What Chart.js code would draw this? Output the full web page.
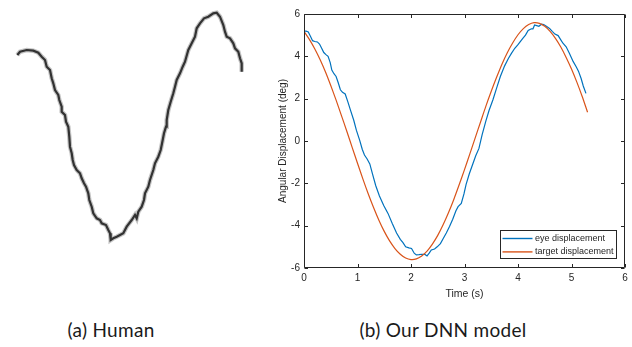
<!DOCTYPE html>
<html><head><meta charset="utf-8">
<script src="https://cdn.jsdelivr.net/npm/chart.js@4/dist/chart.umd.min.js"></script>
<style>
html,body{margin:0;padding:0;background:#fff;width:632px;height:347px;overflow:hidden}
body{position:relative}
#human{position:absolute;left:0;top:0}
#dnn{position:absolute;left:260px;top:0}
.cap{position:absolute;top:318.5px;font-family:Lato,"Open Sans",sans-serif;font-size:19px;line-height:22px;letter-spacing:0.3px;color:#1a1a1a;white-space:nowrap;transform:translateX(-50%)}
</style></head><body>
<canvas id="human" width="260" height="260"></canvas>
<canvas id="dnn" width="372" height="300"></canvas>
<div class="cap" style="left:111px">(a) Human</div>
<div class="cap" style="left:443px">(b) Our DNN model</div>
<script>
// ---- (a) human trace (horizontal / vertical units of the panel) ----
const humanX = [17.3,20,26.7,33.3,38.3,41.7,45,46.7,50,51.7,53.3,55,58.3,59.3,61.7,61.7,65,66,68.3,69.3,70,71.7,72.7,74,76.7,80,81.7,84,86,88.3,89.3,91.7,93.3,96.7,100,101.7,106,108.3,110,110.7,113.3,116.7,120,123.3,126.7,131.7,135,136.7,138.3,141.7,144,145,148.3,150,153.3,155,158.3,160.7,162.7,164,166,166.7,168.3,170.7,173.3,175,176.7,180,182.7,185,188.3,191.7,195,196.7,200,204,208.3,213.3,216.7,220,223.3,225,226.7,230,233.3,235,238.3,240,241.7,241.7];
const humanY = [55,51.7,50,50.7,52.7,56.7,60,66.7,70,78.3,83.3,90,95,100,106.7,111.7,115,121.7,126.7,136.7,146.7,153.3,160,165,170,173.3,178.3,183.3,186.7,193.3,200,206.7,213.3,218.3,220,223.3,225,230,233.3,240,238.3,236.7,235,233.3,226.7,220,215,218.3,211.7,206.7,200,193.3,186.7,180,170,163.3,156.7,150,140,133.3,126.7,120,110,101.7,93.3,86.7,80,73.3,66.7,61.7,50,43.3,36.7,28.3,23.3,18.3,16.7,13.3,12.7,16.7,25,31.7,36.7,38.3,43.3,48.3,51.7,58.3,63.3,71.7];

// ---- (b) DNN model ----
const eyeTime = [0.00,0.04,0.08,0.12,0.16,0.20,0.25,0.29,0.33,0.37,0.41,0.45,0.49,0.52,0.56,0.60,0.64,0.68,0.72,0.77,0.82,0.87,0.93,0.98,1.04,1.09,1.13,1.18,1.23,1.28,1.34,1.41,1.49,1.57,1.65,1.73,1.80,1.85,1.90,1.96,2.01,2.06,2.10,2.15,2.20,2.26,2.30,2.34,2.38,2.44,2.49,2.55,2.60,2.66,2.72,2.78,2.84,2.88,2.94,2.99,3.03,3.09,3.16,3.21,3.27,3.33,3.40,3.46,3.53,3.60,3.67,3.75,3.82,3.88,3.94,4.00,4.05,4.09,4.14,4.19,4.25,4.28,4.31,4.35,4.39,4.44,4.48,4.53,4.59,4.64,4.69,4.75,4.80,4.84,4.90,4.96,5.03,5.09,5.13,5.18,5.22,5.27];
const eyeDisp = [5.19,5.19,5.15,4.95,4.74,4.70,4.68,4.58,4.38,4.18,4.08,4.00,3.70,3.35,3.18,3.05,2.75,2.42,2.30,2.22,1.85,1.45,0.98,0.50,0.04,-0.40,-0.66,-0.85,-1.08,-1.55,-2.10,-2.60,-3.05,-3.42,-3.90,-4.35,-4.65,-4.80,-5.00,-5.05,-5.08,-5.30,-5.38,-5.37,-5.35,-5.36,-5.43,-5.30,-5.15,-5.10,-5.00,-4.85,-4.62,-4.35,-4.04,-3.70,-3.30,-3.10,-2.95,-2.50,-2.05,-1.55,-1.05,-0.70,-0.35,0.30,0.95,1.45,1.94,2.50,3.05,3.55,3.90,4.15,4.38,4.55,4.72,4.85,5.00,5.22,5.30,5.30,5.48,5.45,5.42,5.52,5.50,5.42,5.32,5.18,5.05,4.98,4.78,4.62,4.45,4.15,3.76,3.50,3.30,2.95,2.60,2.25];
const targetTime = [0.0,0.1,0.2,0.3,0.4,0.5,0.6,0.7,0.8,0.9,1.0,1.1,1.2,1.3,1.4,1.5,1.6,1.7,1.8,1.9,2.0,2.1,2.2,2.3,2.4,2.5,2.6,2.7,2.8,2.9,3.0,3.1,3.2,3.3,3.4,3.5,3.6,3.7,3.8,3.9,4.0,4.1,4.2,4.3,4.4,4.5,4.6,4.7,4.8,4.9,5.0,5.1,5.2,5.3];
const targetDisp = [5.18,4.80,4.36,3.85,3.27,2.62,1.93,1.20,0.46,-0.30,-1.05,-1.79,-2.49,-3.14,-3.74,-4.27,-4.72,-5.08,-5.35,-5.53,-5.60,-5.57,-5.43,-5.20,-4.87,-4.46,-3.96,-3.39,-2.76,-2.07,-1.35,-0.61,0.15,0.90,1.65,2.35,3.01,3.63,4.17,4.63,5.02,5.31,5.50,5.59,5.56,5.42,5.18,4.85,4.44,3.95,3.40,2.78,2.10,1.36];
const seriesNames = ['eye displacement','target displacement'];
const xTicks = [0,1,2,3,4,5,6];
const yTicks = [-6,-4,-2,0,2,4,6];
const xTitle = 'Time (s)';
const yTitle = 'Angular Displacement (deg)';

const pts = (xs, ys) => xs.map((v, i) => ({x: v, y: ys[i]}));

new Chart(document.getElementById('human'), {
  type: 'line',
  data: {datasets: [
    {data: pts(humanX, humanY), borderColor: 'rgba(60,60,60,0.3)', borderWidth: 4.5, pointRadius: 0, tension: 0},
    {data: pts(humanX, humanY), borderColor: '#2e2e2e', borderWidth: 2.2, pointRadius: 0, tension: 0}
  ]},
  options: {
    responsive: false, animation: false, events: [],
    layout: {padding: 0},
    plugins: {legend: {display: false}, tooltip: {enabled: false}},
    scales: {
      x: {type: 'linear', min: 0, max: 260, display: false},
      y: {type: 'linear', min: 0, max: 260, reverse: true, display: false}
    }
  }
});

const AX = '#262626';
const font = 'Liberation Sans, Arial, Helvetica, sans-serif';
const matlabBox = {
  id: 'matlabBox',
  afterDraw(chart) {
    const {ctx, chartArea: a, scales: {x, y}} = chart;
    ctx.save();
    ctx.strokeStyle = AX; ctx.lineWidth = 1;
    const L = Math.round(a.left) + 0.5, R = Math.round(a.right) - 0.5;
    const T = Math.round(a.top) + 0.5, B = Math.round(a.bottom) - 0.5;
    ctx.beginPath();
    ctx.rect(L, T, R - L, B - T);
    const tl = 3.5;
    xTicks.forEach(v => {
      const px = Math.round(x.getPixelForValue(v)) + 0.5;
      ctx.moveTo(px, B); ctx.lineTo(px, B - tl);
      ctx.moveTo(px, T); ctx.lineTo(px, T + tl);
    });
    yTicks.forEach(v => {
      const py = Math.round(y.getPixelForValue(v)) + 0.5;
      ctx.moveTo(L, py); ctx.lineTo(L + tl, py);
      ctx.moveTo(R, py); ctx.lineTo(R - tl, py);
    });
    ctx.stroke();
    // legend (south-east, inside)
    ctx.font = '9px ' + font;
    const ds = chart.data.datasets;
    let tw = 0;
    ds.forEach(d => { tw = Math.max(tw, ctx.measureText(d.label).width); });
    const bw = Math.round(34 + tw + 3), bh = 28;
    const bx = Math.round(R - 9 - bw) + 0.5, by = Math.round(B - 10 - bh) + 0.5;
    ctx.fillStyle = '#fff';
    ctx.fillRect(bx, by, bw, bh);
    ctx.strokeStyle = AX; ctx.lineWidth = 1;
    ctx.strokeRect(bx, by, bw, bh);
    ds.forEach((d, i) => {
      const ry = by + 8 + i * 13.4;
      ctx.strokeStyle = d.borderColor; ctx.lineWidth = 1.4;
      ctx.beginPath(); ctx.moveTo(bx + 2, ry); ctx.lineTo(bx + 32, ry); ctx.stroke();
      ctx.fillStyle = AX; ctx.textBaseline = 'middle'; ctx.textAlign = 'left';
      ctx.fillText(d.label, bx + 34.5, ry);
    });
    ctx.restore();
  }
};

new Chart(document.getElementById('dnn'), {
  type: 'line',
  data: {datasets: [
    {label: seriesNames[0], data: pts(eyeTime, eyeDisp), borderColor: '#0072BD', borderWidth: 1.2, pointRadius: 0, tension: 0, order: 2},
    {label: seriesNames[1], data: pts(targetTime, targetDisp), borderColor: '#D95319', borderWidth: 1.2, pointRadius: 0, tension: 0.3, order: 1}
  ]},
  options: {
    responsive: false, animation: false, events: [],
    layout: {padding: {top: 14, right: 7, left: 0, bottom: 0}},
    plugins: {legend: {display: false}, tooltip: {enabled: false}},
    scales: {
      x: {
        type: 'linear', min: 0, max: 6,
        afterBuildTicks: s => { s.ticks = xTicks.map(v => ({value: v})); },
        afterFit: s => { s.height = 32; },
        grid: {display: false, drawTicks: false}, border: {display: false},
        ticks: {color: AX, font: {family: font, size: 10}, padding: 4, maxRotation: 0, autoSkip: false},
        title: {display: true, text: xTitle, color: AX, font: {family: font, size: 10.5}, padding: {top: 0, bottom: 0}}
      },
      y: {
        type: 'linear', min: -6, max: 6,
        afterBuildTicks: s => { s.ticks = yTicks.map(v => ({value: v})); },
        afterFit: s => { s.width = 44; },
        grid: {display: false, drawTicks: false}, border: {display: false},
        ticks: {color: AX, font: {family: font, size: 10}, padding: 4, autoSkip: false,
          callback: v => String(v).replace('\u2212', '-')},
        title: {display: true, text: yTitle, color: AX, font: {family: font, size: 10}, padding: {top: 17, bottom: 0}}
      }
    }
  },
  plugins: [matlabBox]
});
</script>
</body></html>
